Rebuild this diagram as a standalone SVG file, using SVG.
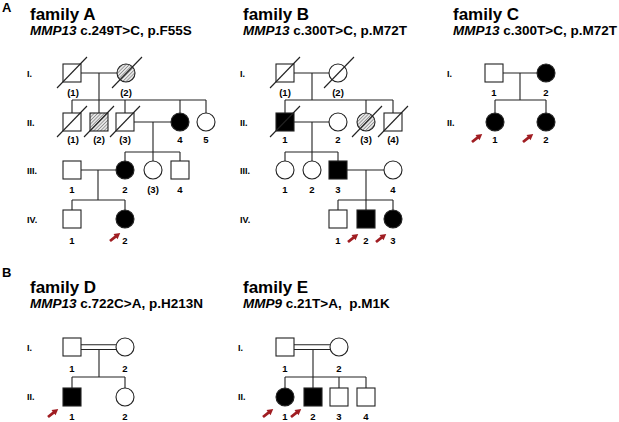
<svg xmlns="http://www.w3.org/2000/svg" xmlns:xlink="http://www.w3.org/1999/xlink" width="619" height="422" viewBox="0 0 619 422">
<defs>
<pattern id="hatch" width="2.4" height="2.4" patternUnits="userSpaceOnUse" patternTransform="rotate(45)">
<rect width="2.4" height="2.4" fill="#e8e8e8"/>
<line x1="0" y1="0" x2="0" y2="2.4" stroke="#555" stroke-width="1"/>
</pattern>
<polygon id="arr" points="0,-1.4 7,-1.4 7,-3.3 13,0 7,3.3 7,1.4 0,1.4" fill="#a01d22"/>
<style>
.n{fill:#fff;stroke:#222;stroke-width:1.1}
.f{fill:#000;stroke:#222;stroke-width:1.1}
.h{fill:url(#hatch);stroke:#222;stroke-width:1.1}
.sl{stroke:#222;stroke-width:1.1;fill:none}
.ln{stroke:#222;stroke-width:1.1;fill:none}
text{font-family:"Liberation Sans",Arial,sans-serif;font-weight:bold;fill:#000}
.pl{font-size:13px}
.t{font-size:17px}
.s{font-size:13.5px}
.g{font-size:9px}
.l{font-size:9.5px;text-anchor:middle}
</style>
</defs>

<!-- panel labels and titles -->
<g id="titles">
<text class="pl" x="2" y="12">A</text>
<text class="pl" x="2" y="277">B</text>
<text class="t" x="30" y="20">family A</text>
<text class="s" x="30" y="35"><tspan font-style="italic">MMP13</tspan> c.249T&gt;C, p.F55S</text>
<text class="t" x="243" y="20">family B</text>
<text class="s" x="243" y="35"><tspan font-style="italic">MMP13</tspan> c.300T&gt;C, p.M72T</text>
<text class="t" x="453" y="20">family C</text>
<text class="s" x="453" y="35"><tspan font-style="italic">MMP13</tspan> c.300T&gt;C, p.M72T</text>
<text class="t" x="30" y="293">family D</text>
<text class="s" x="30" y="308"><tspan font-style="italic">MMP13</tspan> c.722C&gt;A, p.H213N</text>
<text class="t" x="243" y="293">family E</text>
<text class="s" x="243" y="308" xml:space="preserve"><tspan font-style="italic">MMP9</tspan> c.21T&gt;A,  p.M1K</text>
</g>

<!-- generation labels -->
<g id="generations">
<text class="g" x="27" y="77">I.</text>
<text class="g" x="27" y="126">II.</text>
<text class="g" x="27" y="174">III.</text>
<text class="g" x="27" y="223">IV.</text>
<text class="g" x="240" y="77">I.</text>
<text class="g" x="240" y="126">II.</text>
<text class="g" x="240" y="174">III.</text>
<text class="g" x="240" y="223">IV.</text>
<text class="g" x="447" y="77">I.</text>
<text class="g" x="447" y="126">II.</text>
<text class="g" x="27" y="351">I.</text>
<text class="g" x="27" y="400">II.</text>
<text class="g" x="238" y="351">I.</text>
<text class="g" x="238" y="400">II.</text>
</g>

<!-- connectors -->
<g id="connectors" class="ln">
<!-- family A -->
<path d="M81 73H117M99 73V100M72 100H206M72 100V113M99 100V113M125 100V113M180 100V113M206 100V113"/>
<path d="M134 122H171M153 122V161M125 152H180M125 152V161M180 152V161"/>
<path d="M81 170H116M98 170V200M72 200H125M72 200V210M125 200V210"/>
<!-- family B -->
<path d="M294 73H329M312 73V100M285 100H393M285 100V113M366 100V113M393 100V113"/>
<path d="M294 122H329M312 122V161M285 152H338M285 152V161M338 152V161"/>
<path d="M347 170H384M366 170V210M338 200H393M338 200V210M393 200V210"/>
<!-- family C -->
<path d="M503 73H537M520 73V100M495 100H546M495 100V113M546 100V113"/>
<!-- family D -->
<path d="M81 344.8H116M81 349.5H116M99 349.5V377M72 377H125M72 377V388M125 377V388"/>
<!-- family E -->
<path d="M294 344.8H330M294 349.5H330M313 349.5V388M285 377H366M285 377V388M339 377V388M366 377V388"/>
</g>

<!-- family A nodes -->
<g id="A-I1"><rect class="n" x="63" y="64" width="18" height="18"/><line class="sl" x1="57" y1="88" x2="87" y2="57"/><text class="l" x="73" y="96">(1)</text></g>
<g id="A-I2"><circle class="h" cx="126" cy="73" r="9"/><line class="sl" x1="112" y1="88" x2="142" y2="57"/><text class="l" x="126" y="96">(2)</text></g>
<g id="A-II1"><rect class="n" x="63" y="113" width="18" height="18"/><line class="sl" x1="57" y1="137" x2="87" y2="106"/><text class="l" x="73" y="143">(1)</text></g>
<g id="A-II2"><rect class="h" x="90" y="113" width="18" height="18"/><line class="sl" x1="84" y1="137" x2="114" y2="106"/><text class="l" x="99" y="143">(2)</text></g>
<g id="A-II3"><rect class="n" x="116" y="113" width="18" height="18"/><line class="sl" x1="110" y1="137" x2="140" y2="106"/><text class="l" x="125" y="143">(3)</text></g>
<g id="A-II4"><circle class="f" cx="180" cy="122" r="9"/><text class="l" x="180" y="143">4</text></g>
<g id="A-II5"><circle class="n" cx="206" cy="122" r="9"/><text class="l" x="206" y="143">5</text></g>
<g id="A-III1"><rect class="n" x="63" y="161" width="18" height="18"/><text class="l" x="72" y="193">1</text></g>
<g id="A-III2"><circle class="f" cx="125" cy="170" r="9"/><text class="l" x="125" y="193">2</text></g>
<g id="A-III3"><circle class="n" cx="153" cy="170" r="9"/><text class="l" x="153" y="193">(3)</text></g>
<g id="A-III4"><rect class="n" x="171" y="161" width="18" height="18"/><text class="l" x="180" y="193">4</text></g>
<g id="A-IV1"><rect class="n" x="63" y="210" width="18" height="18"/><text class="l" x="72" y="244">1</text></g>
<g id="A-IV2"><circle class="f" cx="125" cy="219" r="9"/><use href="#arr" xlink:href="#arr" transform="translate(110 241) rotate(-38)"/><text class="l" x="125" y="244">2</text></g>

<!-- family B nodes -->
<g id="B-I1"><rect class="n" x="276" y="64" width="18" height="18"/><line class="sl" x1="270" y1="88" x2="300" y2="57"/><text class="l" x="285" y="96">(1)</text></g>
<g id="B-I2"><circle class="n" cx="338" cy="73" r="9"/><line class="sl" x1="324" y1="88" x2="354" y2="57"/><text class="l" x="338" y="96">(2)</text></g>
<g id="B-II1"><rect class="f" x="276" y="113" width="18" height="18"/><line class="sl" x1="270" y1="137" x2="300" y2="106"/><text class="l" x="285" y="143">1</text></g>
<g id="B-II2"><circle class="n" cx="338" cy="122" r="9"/><text class="l" x="338" y="143">2</text></g>
<g id="B-II3"><circle class="h" cx="366" cy="122" r="9"/><line class="sl" x1="352" y1="137" x2="382" y2="106"/><text class="l" x="366" y="143">(3)</text></g>
<g id="B-II4"><rect class="n" x="384" y="113" width="18" height="18"/><line class="sl" x1="378" y1="137" x2="408" y2="106"/><text class="l" x="393" y="143">(4)</text></g>
<g id="B-III1"><circle class="n" cx="285" cy="170" r="9"/><text class="l" x="285" y="193">1</text></g>
<g id="B-III2"><circle class="n" cx="312" cy="170" r="9"/><text class="l" x="312" y="193">2</text></g>
<g id="B-III3"><rect class="f" x="329" y="161" width="18" height="18"/><text class="l" x="338" y="193">3</text></g>
<g id="B-III4"><circle class="n" cx="393" cy="170" r="9"/><text class="l" x="393" y="193">4</text></g>
<g id="B-IV1"><rect class="n" x="329" y="210" width="18" height="18"/><text class="l" x="338" y="244">1</text></g>
<g id="B-IV2"><rect class="f" x="357" y="210" width="18" height="18"/><use href="#arr" xlink:href="#arr" transform="translate(348 242) rotate(-38)"/><text class="l" x="366" y="244">2</text></g>
<g id="B-IV3"><circle class="f" cx="393" cy="219" r="9"/><use href="#arr" xlink:href="#arr" transform="translate(376 242) rotate(-38)"/><text class="l" x="393" y="244">3</text></g>

<!-- family C nodes -->
<g id="C-I1"><rect class="n" x="485" y="64" width="18" height="18"/><text class="l" x="494" y="96">1</text></g>
<g id="C-I2"><circle class="f" cx="546" cy="73" r="9"/><text class="l" x="546" y="96">2</text></g>
<g id="C-II1"><circle class="f" cx="495" cy="122" r="9"/><use href="#arr" xlink:href="#arr" transform="translate(472 142) rotate(-38)"/><text class="l" x="495" y="143">1</text></g>
<g id="C-II2"><circle class="f" cx="546" cy="122" r="9"/><use href="#arr" xlink:href="#arr" transform="translate(523 142) rotate(-38)"/><text class="l" x="546" y="143">2</text></g>

<!-- family D nodes -->
<g id="D-I1"><rect class="n" x="63" y="338" width="18" height="18"/><text class="l" x="72" y="372">1</text></g>
<g id="D-I2"><circle class="n" cx="125" cy="347" r="9"/><text class="l" x="125" y="372">2</text></g>
<g id="D-II1"><rect class="f" x="63" y="388" width="18" height="18"/><use href="#arr" xlink:href="#arr" transform="translate(48 417) rotate(-38)"/><text class="l" x="72" y="420">1</text></g>
<g id="D-II2"><circle class="n" cx="125" cy="397" r="9"/><text class="l" x="125" y="420">2</text></g>

<!-- family E nodes -->
<g id="E-I1"><rect class="n" x="276" y="338" width="18" height="18"/><text class="l" x="285" y="372">1</text></g>
<g id="E-I2"><circle class="n" cx="339" cy="347" r="9"/><text class="l" x="339" y="372">2</text></g>
<g id="E-II1"><circle class="f" cx="285" cy="397" r="9"/><use href="#arr" xlink:href="#arr" transform="translate(263 417) rotate(-38)"/><text class="l" x="285" y="420">1</text></g>
<g id="E-II2"><rect class="f" x="304" y="388" width="18" height="18"/><use href="#arr" xlink:href="#arr" transform="translate(291 417) rotate(-38)"/><text class="l" x="313" y="420">2</text></g>
<g id="E-II3"><rect class="n" x="330" y="388" width="18" height="18"/><text class="l" x="339" y="420">3</text></g>
<g id="E-II4"><rect class="n" x="357" y="388" width="18" height="18"/><text class="l" x="366" y="420">4</text></g>
</svg>
